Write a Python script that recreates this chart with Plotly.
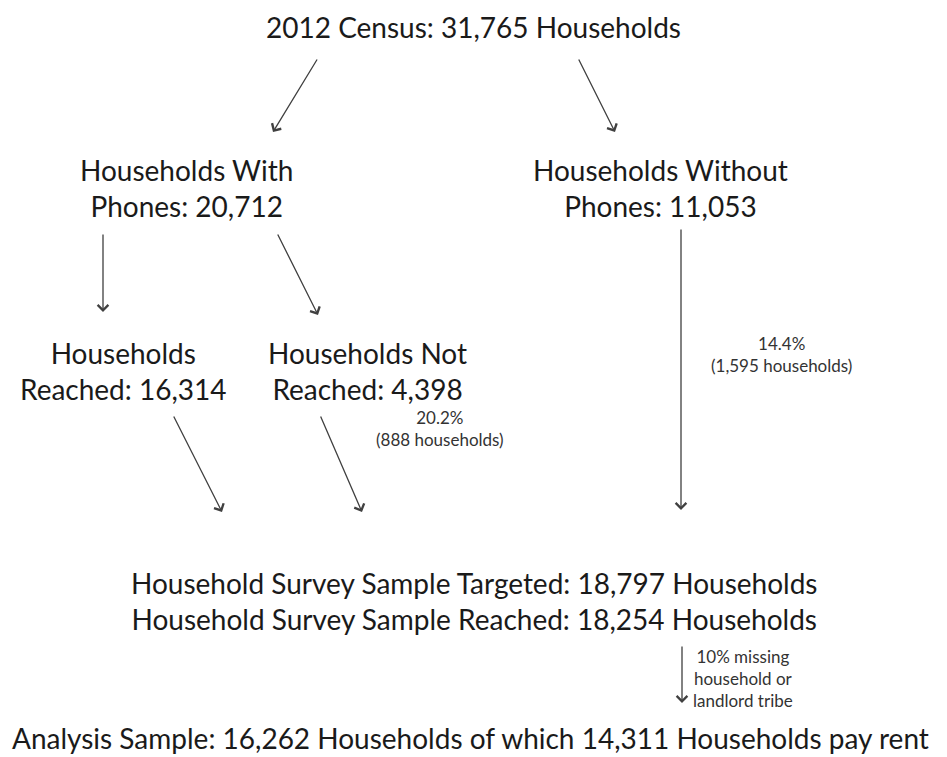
import plotly.graph_objects as go

W, H = 947, 757
OFF = 8  # default page body margin
FONT = "Lato"

# Node labels (main boxes)
node_labels = [
    "2012 Census: 31,765 Households",
    "Households With<br>Phones: 20,712",
    "Households Without<br>Phones: 11,053",
    "Households<br>Reached: 16,314",
    "Households Not<br>Reached: 4,398",
    "Household Survey Sample Targeted: 18,797 Households<br>Household Survey Sample Reached: 18,254 Households",
    "Analysis Sample: 16,262 Households of which 14,311 Households pay rent",
]
node_x = [473, 186, 660, 123, 367, 474, 470]
node_y = [27, 188, 188, 371, 371, 601, 738]

# Small annotations
note_labels = [
    "14.4%<br>(1,595 households)",
    "20.2%<br>(888 households)",
    "10% missing<br>household or<br>landlord tribe",
]
note_x = [781, 440, 743]
note_y = [354, 428, 678]

# Arrows (start -> end)
arrow_x0 = [318, 578, 103, 277, 681, 173, 320, 682]
arrow_y0 = [58, 58, 233, 233, 228, 415, 415, 645]
arrow_x1 = [273, 615, 103, 318, 681, 222, 362, 682]
arrow_y1 = [132, 132, 312, 315, 510, 512, 512, 703]

fig = go.Figure()
fig.add_trace(go.Scatter(x=[OFF, W], y=[OFF, H], mode="markers",
                         marker=dict(opacity=0), hoverinfo="skip", showlegend=False))

annotations = []
for t, x, y in zip(node_labels, node_x, node_y):
    annotations.append(dict(x=x, y=y, xref="x", yref="y", text=t, showarrow=False,
                            font=dict(family=FONT, size=28, color="#1a1a1a"),
                            align="center", xanchor="center", yanchor="middle"))
for t, x, y in zip(note_labels, note_x, note_y):
    annotations.append(dict(x=x, y=y, xref="x", yref="y", text=t, showarrow=False,
                            font=dict(family=FONT, size=17, color="#333333"),
                            align="center", xanchor="center", yanchor="middle"))
for x0, y0, x1, y1 in zip(arrow_x0, arrow_y0, arrow_x1, arrow_y1):
    annotations.append(dict(x=x1, y=y1, ax=x0, ay=y0, xref="x", yref="y",
                            axref="x", ayref="y", text="", showarrow=True,
                            arrowhead=4, arrowsize=1.6, arrowwidth=1.3,
                            arrowcolor="#404040"))

fig.update_layout(
    width=W - OFF, height=H - OFF,
    margin=dict(l=0, r=0, t=0, b=0),
    paper_bgcolor="white", plot_bgcolor="white",
    xaxis=dict(range=[OFF, W], visible=False, fixedrange=True),
    yaxis=dict(range=[H, OFF], visible=False, fixedrange=True),
    annotations=annotations,
    showlegend=False,
)
fig.write_html("out.html", config={"displayModeBar": False})
